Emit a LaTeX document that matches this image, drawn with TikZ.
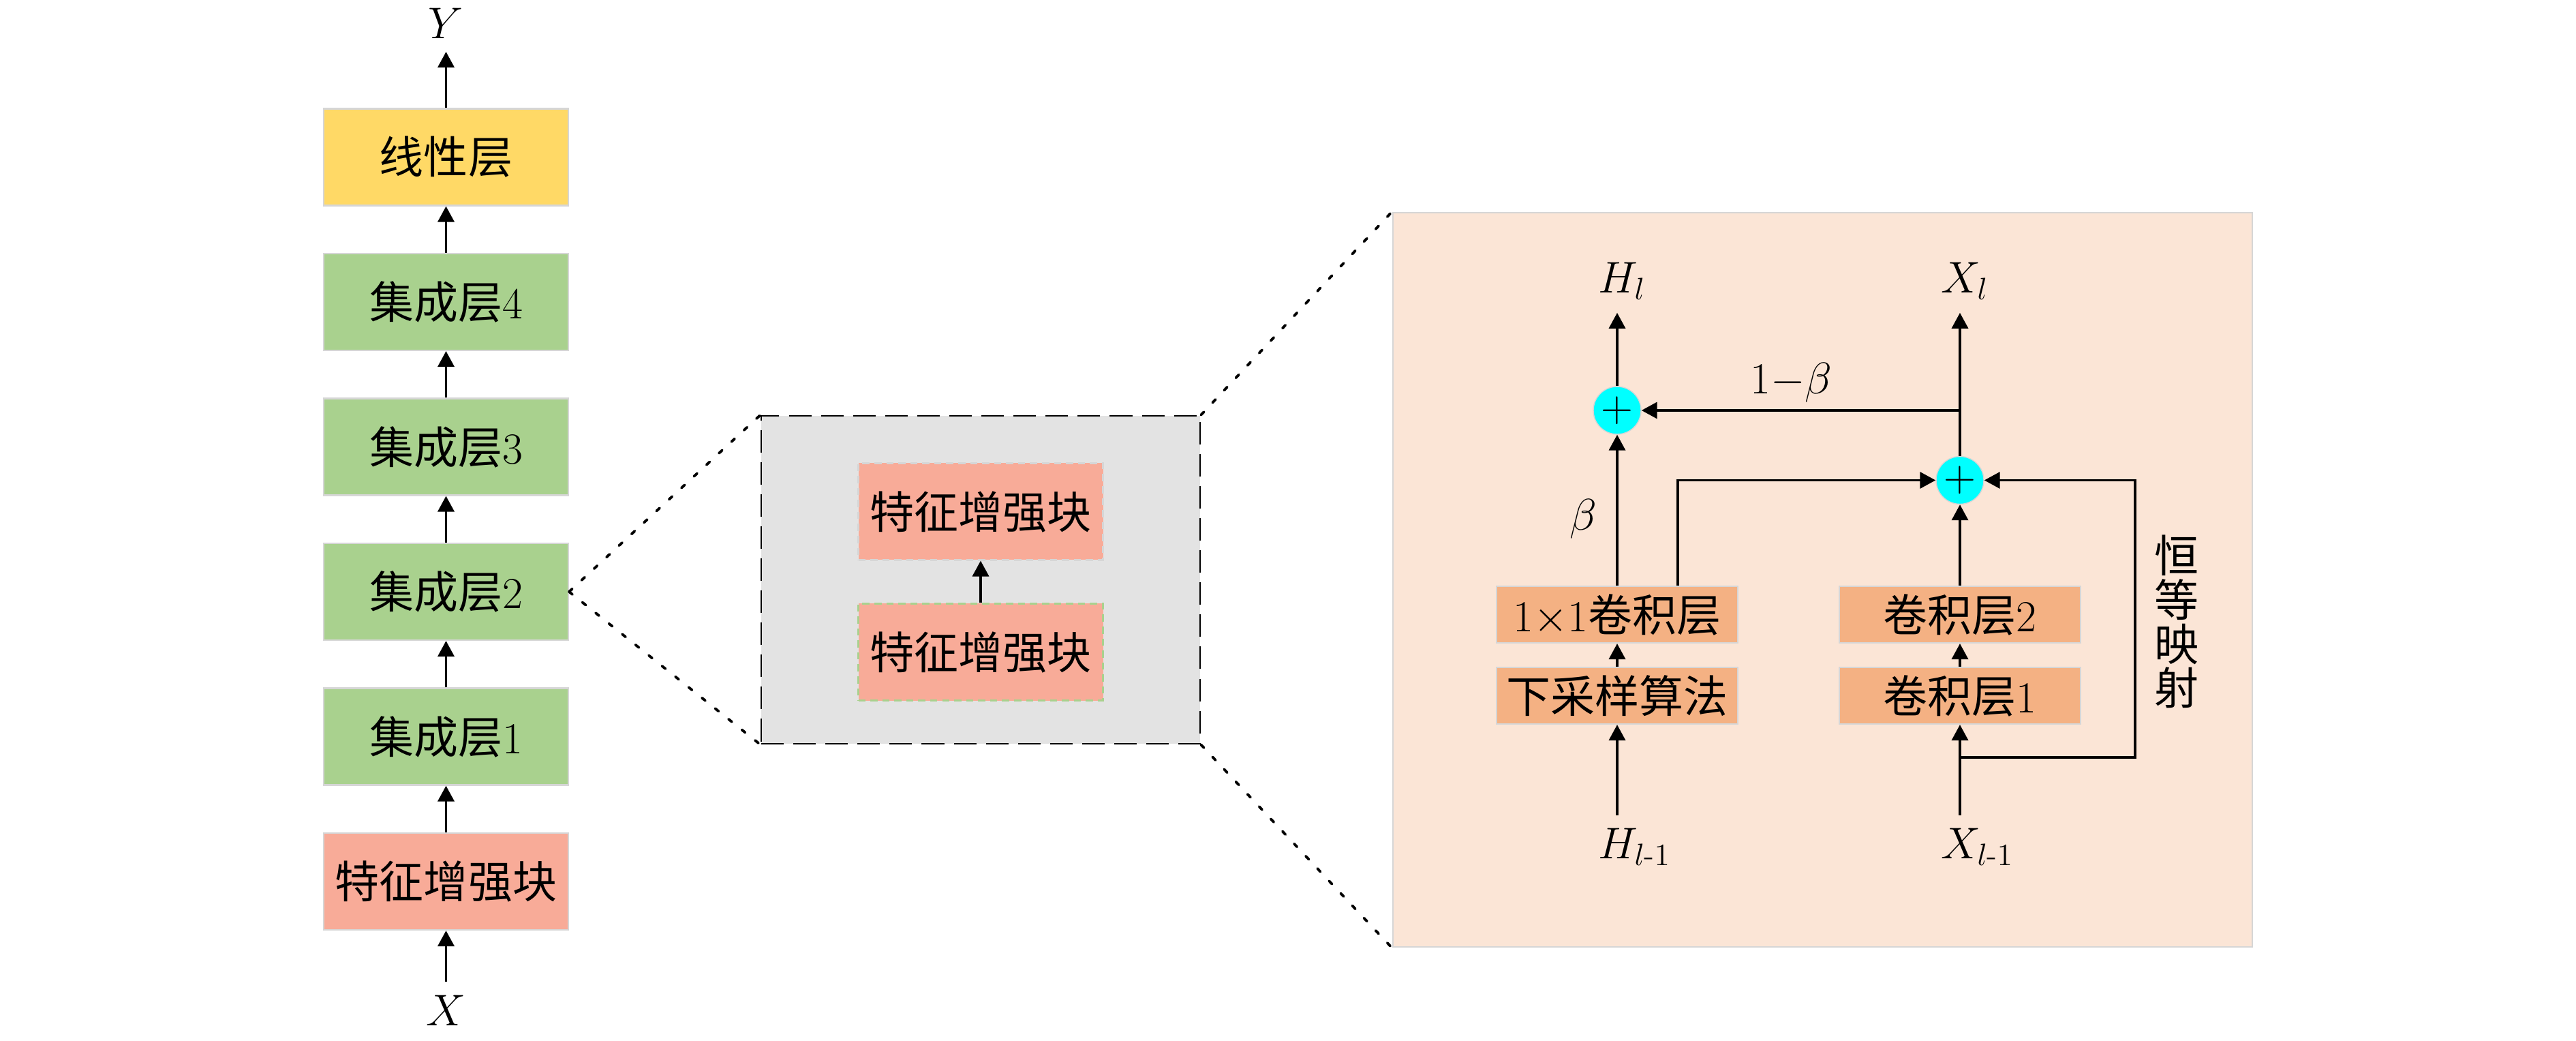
\RequirePackage{fix-cm}
\documentclass[tikz,border=0pt]{standalone}
\usepackage{mathtools}
\usepackage{fontspec}
\usetikzlibrary{arrows.meta,calc}
\newfontfamily\cjk{Noto Sans CJK SC}
\definecolor{linyellow}{HTML}{FFD966}
\definecolor{layergreen}{HTML}{A9D18E}
\definecolor{blocksalmon}{HTML}{F8AB98}
\definecolor{convorange}{HTML}{F4B183}
\definecolor{panelpeach}{HTML}{FBE5D6}
\definecolor{zoomgrey}{HTML}{E3E3E3}
\definecolor{edgegrey}{HTML}{D6D6D6}
\definecolor{sumcyan}{HTML}{00FFFF}

\begin{document}
\begin{tikzpicture}[->,>={Triangle[length=0.23cm,width=0.24cm]},line width=1pt,node distance=2.125cm,
    txt/.style={font=\fontsize{18.5pt}{22pt}\selectfont},
    blk/.style={txt,draw=edgegrey,line width=0.6pt,minimum width=3.59cm,minimum height=1.42cm,inner sep=0pt},
    conv/.style={txt,fill=convorange,draw=edgegrey,line width=0.6pt,minimum width=3.54cm,minimum height=0.83cm,inner sep=0pt},
    lab/.style={txt,inner sep=0.18cm},
    sum/.style={txt,circle,fill=sumcyan,draw=edgegrey,line width=0.4pt,minimum size=0.7cm,inner sep=0pt},
    zoomline/.style={-,line width=1.1pt,dash pattern=on 1.8pt off 5.3pt,line cap=round}]
    \useasboundingbox (0,0) rectangle (37.8,15.26);

    % panels behind
    \node[draw=edgegrey,line width=0.8pt,fill=panelpeach,minimum width=12.61cm,minimum height=10.77cm] (big) at (26.745,6.755) {};
    \node[draw=black,line width=0.7pt,dash pattern=on 9.4pt off 4pt,fill=zoomgrey,minimum width=6.44cm,minimum height=4.81cm] (zoom) at (14.39,6.755) {};

    % main stack
    \node[blk,fill=blocksalmon] (feb) at (6.545,2.33) {{\cjk 特征增强块}};
    \node[blk,fill=layergreen] (ens1) [above of=feb] {{\cjk 集成层}1};
    \node[blk,fill=layergreen] (ens2) [above of=ens1] {{\cjk 集成层}2};
    \node[blk,fill=layergreen] (ens3) [above of=ens2] {{\cjk 集成层}3};
    \node[blk,fill=layergreen] (ens4) [above of=ens3] {{\cjk 集成层}4};
    \node[blk,fill=linyellow] (lin) [above of=ens4] {{\cjk 线性层}};
    \node[lab] (Y) [above of=lin,node distance=1.965cm] {$Y$};
    \node[lab] (X) [below of=feb,node distance=1.89cm] {$X$};

    \path (X) edge (feb)
        (feb) edge (ens1)
        (ens1) edge (ens2)
        (ens2) edge (ens3)
        (ens3) edge (ens4)
        (ens4) edge (lin)
        (lin) edge (Y);

    % zoomed layer
    \node[blk,fill=blocksalmon,draw=layergreen,line width=1pt,dash pattern=on 3pt off 2pt] (e1) at (14.39,5.695) {{\cjk 特征增强块}};
    \node[blk,fill=blocksalmon,dash pattern=on 3pt off 2pt] (e2) [above of=e1,node distance=2.06cm] {{\cjk 特征增强块}};
    \draw (e1) -- (e2);

    \draw[zoomline] (ens2.east) -- (zoom.north west);
    \draw[zoomline] (ens2.east) -- (zoom.south west);
    \draw[zoomline] (zoom.north east) -- (big.north west);
    \draw[zoomline] (zoom.south east) -- (big.south west);

    % inside the block
    \node[conv] (down) at (23.73,5.055) {{\cjk 下采样算法}};
    \node[conv] (c11) [above of=down,node distance=1.19cm] {1$\times$1{\cjk 卷积层}};
    \node[conv] (cv1) at (28.76,5.055) {{\cjk 卷积层}1};
    \node[conv] (cv2) [above of=cv1,node distance=1.19cm] {{\cjk 卷积层}2};
    \node[sum] (s1) [above of=c11,node distance=2.995cm] {$+$};
    \node[sum] (s2) [above of=cv2,node distance=1.97cm] {$+$};
    \node[lab] (Hout) [above of=s1,node distance=1.9cm] {$H_{\mathrlap{l}}$};
    \node[lab] (Xout) [above of=s2,node distance=2.925cm] {$X_{\mathrlap{l}}$};
    \node[lab] (Hin) [below of=down,node distance=2.22cm] {$H_{\mathrlap{l\text{-}1}}$};
    \node[lab] (Xin) [below of=cv1,node distance=2.22cm] {$X_{\mathrlap{l\text{-}1}}$};
    \node[align=center,font=\fontsize{18.5pt}{18.4pt}\selectfont\cjk] (ident) at (31.94,6.14) {恒\\等\\映\\射};

    \coordinate (b1) at (s2 |- s1);
    \coordinate (sp) at ($(Xin.north)!0.64!(cv1.south)$);

    \path (Hin) edge (down)
        (down) edge (c11)
        (c11) edge node[lab,left,pos=0.44,xshift=-0.1cm] {$\beta$} (s1)
        (s1) edge (Hout)
        (Xin) edge (cv1)
        (cv1) edge (cv2)
        (cv2) edge (s2)
        (s2) edge (Xout);
    \draw (b1) -- node[txt,above,inner sep=0.1cm,pos=0.53] {1$-\beta$} (s1);
    \draw ([xshift=0.89cm]c11.north) |- (s2);
    \draw (sp) -- ++(2.57,0) |- (s2);
\end{tikzpicture}
\end{document}
